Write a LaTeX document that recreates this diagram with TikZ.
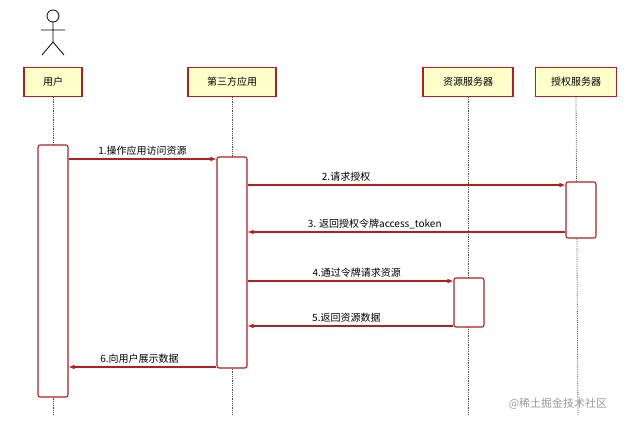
\documentclass[tikz,border=0pt]{standalone}
\usepackage{fontspec}
\setmainfont{Noto Sans CJK SC}
\usetikzlibrary{positioning}
\definecolor{boxred}{HTML}{B02020}
\definecolor{headfill}{HTML}{FFFFCC}

\begin{document}
\begin{tikzpicture}[
	x=1pt, y=-1pt,
	font=\fontsize{10}{12}\selectfont,
	head/.style={draw=boxred, fill=headfill, line width=1.1pt, minimum height=29pt, inner sep=2pt},
	act/.style={draw=boxred, fill=white, line width=1.1pt, rounded corners=2pt, minimum width=30pt},
	life/.style={densely dotted, thick, black!70},
	msg/.style={draw=boxred, line width=1.1pt, -latex},
	lbl/.style={above, inner sep=3pt}
]
	\useasboundingbox (0,0) rectangle (632,425);
	% actor
	\draw[thick] (53,16) circle (6);
	\draw[thick] (53,22) -- (53,42) (41,30) -- (65,30)
		(53,42) -- (42,55) (53,42) -- (64,55);
	% headers
	\node[head, minimum width=58pt] (user) at (53,82) {用户};
	\node[head, minimum width=88pt] (app) at (232,82) {第三方应用};
	\node[head, minimum width=90pt] (res) at (468,82) {资源服务器};
	\node[head, minimum width=81pt] (auth) at (576,82) {授权服务器};
	% lifelines
	\foreach \n/\x in {user/53, app/232, res/468, auth/578}
		\draw[life] (\n.south) -- (\x,415);
	% activations
	\node[act, minimum height=252pt] (userA) at (53,271) {};
	\node[act, minimum height=211pt] (appA) at (232,262.5) {};
	\node[act, minimum height=56pt] (authA) at (581,210) {};
	\node[act, minimum height=49pt] (resA) at (469,302.5) {};
	% messages
	\draw[msg] (userA.east |- 0,159) -- node[lbl]{1.操作应用访问资源} (appA.west |- 0,159);
	\draw[msg] (appA.east |- 0,185) -- node[lbl, pos=0.31]{2.请求授权} (authA.west |- 0,185);
	\draw[msg] (authA.west |- 0,232) -- node[lbl, pos=0.6]{3. 返回授权令牌access\_token} (appA.east |- 0,232);
	\draw[msg] (appA.east |- 0,281) -- node[lbl, pos=0.53]{4.通过令牌请求资源} (resA.west |- 0,281);
	\draw[msg] (resA.west |- 0,326) -- node[lbl, pos=0.52]{5.返回资源数据} (appA.east |- 0,326);
	\draw[msg] (appA.west |- 0,367) -- node[lbl, pos=0.52]{6.向用户展示数据} (userA.east |- 0,367);
	% watermark
	\node[text=black!40, font=\fontsize{11}{13}\selectfont] (mark) at (558,404) {@稀土掘金技术社区};
\end{tikzpicture}
\end{document}
